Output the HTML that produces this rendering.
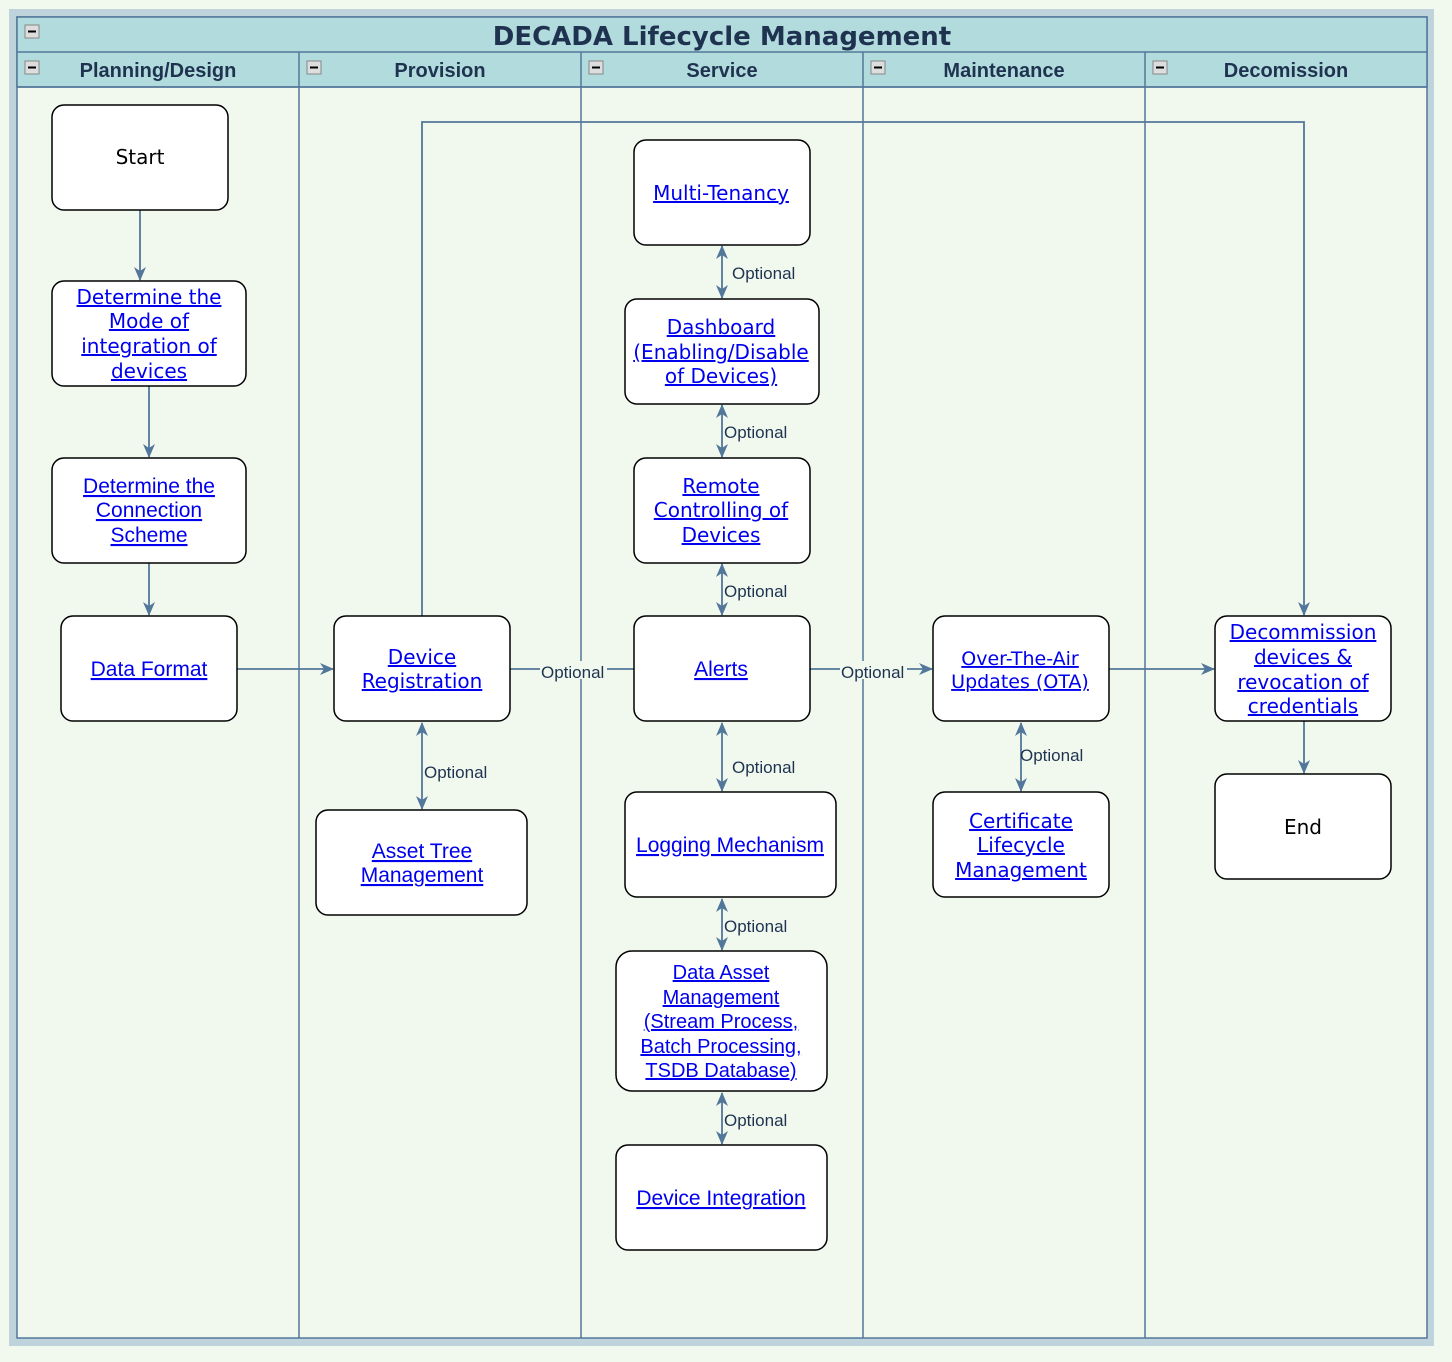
<!DOCTYPE html>
<html><head><meta charset="utf-8"><style>
html,body{margin:0;padding:0;background:#f1f9ef;}
svg{display:block}
.b{fill:#fff;stroke:#000;stroke-width:1.5}
.l{fill:#0000ee;text-decoration:underline;text-anchor:middle}
.dj{font-family:"DejaVu Sans",sans-serif;font-size:20px}
.lb{font-family:"Liberation Sans",sans-serif;font-size:21px}
.e{stroke:#53779a;stroke-width:1.8;fill:none}
.o{font-family:"Liberation Sans",sans-serif;font-size:17px;fill:#1f3350}
.h{font-family:"Liberation Sans",sans-serif;font-weight:bold;fill:#1f3350;text-anchor:middle}
</style></head><body>
<svg width="1452" height="1362" viewBox="0 0 1452 1362" xmlns="http://www.w3.org/2000/svg">
<defs>
<marker id="a" viewBox="0 0 14 14" refX="13" refY="7" markerWidth="14" markerHeight="14" orient="auto-start-reverse" markerUnits="userSpaceOnUse"><path d="M0,1 L14,7 L0,13 L4,7z" fill="#53779a"/></marker>
</defs>
<rect x="0" y="0" width="1452" height="1362" fill="#f1f9ef"/>
<rect x="9" y="9" width="1425" height="1337" fill="#bfd3dc"/>
<rect x="17" y="17" width="1410" height="1321" fill="#f1f9ef" stroke="#53779a" stroke-width="1.5"/>
<rect x="17" y="17" width="1410" height="70" fill="#b1dbdc" stroke="#53779a" stroke-width="1.5"/>
<line x1="17" y1="52" x2="1427" y2="52" stroke="#53779a" stroke-width="1.5"/>
<line x1="17" y1="87" x2="1427" y2="87" stroke="#53779a" stroke-width="1.5"/>
<g stroke="#53779a" stroke-width="1.5">
<line x1="299" y1="52" x2="299" y2="1338"/><line x1="581" y1="52" x2="581" y2="1338"/>
<line x1="863" y1="52" x2="863" y2="1338"/><line x1="1145" y1="52" x2="1145" y2="1338"/>
</g>
<g fill="#ddd" stroke="#888" stroke-width="1">
<rect x="25" y="25" width="14" height="13"/><rect x="25" y="61" width="14" height="13"/><rect x="307" y="61" width="14" height="13"/><rect x="589" y="61" width="14" height="13"/><rect x="871" y="61" width="14" height="13"/><rect x="1153" y="61" width="14" height="13"/>
</g>
<g stroke="#000" stroke-width="2">
<line x1="28" y1="31.5" x2="36" y2="31.5"/><line x1="28" y1="67.5" x2="36" y2="67.5"/><line x1="310" y1="67.5" x2="318" y2="67.5"/><line x1="592" y1="67.5" x2="600" y2="67.5"/><line x1="874" y1="67.5" x2="882" y2="67.5"/><line x1="1156" y1="67.5" x2="1164" y2="67.5"/>
</g>
<text class="h" x="722" y="45" font-size="26" style="font-family:'DejaVu Sans',sans-serif">DECADA Lifecycle Management</text>
<g class="h" font-size="20">
<text x="158" y="77">Planning/Design</text><text x="440" y="77">Provision</text><text x="722" y="77">Service</text><text x="1004" y="77">Maintenance</text><text x="1286" y="77">Decomission</text>
</g>
<g class="e">
<line x1="140" y1="210" x2="140" y2="280" marker-end="url(#a)"/>
<line x1="149" y1="386" x2="149" y2="457" marker-end="url(#a)"/>
<line x1="149" y1="563" x2="149" y2="615" marker-end="url(#a)"/>
<line x1="237" y1="669" x2="333" y2="669" marker-end="url(#a)"/>
<polyline points="422,616 422,122 1304,122 1304,615" marker-end="url(#a)"/>
<line x1="422" y1="723" x2="422" y2="809" marker-start="url(#a)" marker-end="url(#a)"/>
<line x1="510" y1="669" x2="634" y2="669"/>
<line x1="810" y1="669" x2="932" y2="669" marker-end="url(#a)"/>
<line x1="1109" y1="669" x2="1214" y2="669" marker-end="url(#a)"/>
<line x1="1304" y1="721" x2="1304" y2="773" marker-end="url(#a)"/>
<line x1="722" y1="246" x2="722" y2="298" marker-start="url(#a)" marker-end="url(#a)"/>
<line x1="722" y1="405" x2="722" y2="457" marker-start="url(#a)" marker-end="url(#a)"/>
<line x1="722" y1="564" x2="722" y2="615" marker-start="url(#a)" marker-end="url(#a)"/>
<line x1="722" y1="723" x2="722" y2="791" marker-start="url(#a)" marker-end="url(#a)"/>
<line x1="722" y1="899" x2="722" y2="950" marker-start="url(#a)" marker-end="url(#a)"/>
<line x1="722" y1="1093" x2="722" y2="1144" marker-start="url(#a)" marker-end="url(#a)"/>
<line x1="1021" y1="723" x2="1021" y2="791" marker-start="url(#a)" marker-end="url(#a)"/>
</g>
<g class="o">
<rect x="540" y="661" width="67" height="18" fill="#f1f9ef"/><text x="541" y="678">Optional</text>
<rect x="840" y="661" width="67" height="18" fill="#f1f9ef"/><text x="841" y="678">Optional</text>
<text x="732" y="279">Optional</text><text x="724" y="438">Optional</text><text x="724" y="597">Optional</text>
<text x="732" y="773">Optional</text><text x="724" y="932">Optional</text><text x="724" y="1126">Optional</text>
<text x="424" y="778">Optional</text><text x="1020" y="761">Optional</text>
</g>
<g class="b">
<rect x="52" y="105" width="176" height="105" rx="12"/>
<rect x="52" y="281" width="194" height="105" rx="12"/>
<rect x="52" y="458" width="194" height="105" rx="12"/>
<rect x="61" y="616" width="176" height="105" rx="12"/>
<rect x="334" y="616" width="176" height="105" rx="12"/>
<rect x="316" y="810" width="211" height="105" rx="12"/>
<rect x="634" y="140" width="176" height="105" rx="12"/>
<rect x="625" y="299" width="194" height="105" rx="12"/>
<rect x="634" y="458" width="176" height="105" rx="12"/>
<rect x="634" y="616" width="176" height="105" rx="12"/>
<rect x="625" y="792" width="211" height="105" rx="12"/>
<rect x="616" y="951" width="211" height="140" rx="16"/>
<rect x="616" y="1145" width="211" height="105" rx="12"/>
<rect x="933" y="616" width="176" height="105" rx="12"/>
<rect x="933" y="792" width="176" height="105" rx="12"/>
<rect x="1215" y="616" width="176" height="105" rx="12"/>
<rect x="1215" y="774" width="176" height="105" rx="12"/>
</g>
<text x="140" y="164" text-anchor="middle" class="dj" fill="#000">Start</text>
<text x="1303" y="834" text-anchor="middle" class="dj" fill="#000">End</text>
<g class="l dj">
<text x="149" y="304">Determine the</text><text x="149" y="328">Mode of</text><text x="149" y="353">integration of</text><text x="149" y="378">devices</text>
<text x="422" y="664">Device</text><text x="422" y="688">Registration</text>
<text x="721" y="200">Multi-Tenancy</text>
<text x="721" y="334">Dashboard</text><text x="721" y="359">(Enabling/Disable</text><text x="721" y="383">of Devices)</text>
<text x="721" y="493">Remote</text><text x="721" y="517">Controlling of</text><text x="721" y="542">Devices</text>
<text x="1020" y="665" font-size="19">Over-The-Air</text><text x="1020" y="688" font-size="19">Updates (OTA)</text>
<text x="1021" y="828">Certificate</text><text x="1021" y="852">Lifecycle</text><text x="1021" y="877">Management</text>
<text x="1303" y="639">Decommission</text><text x="1303" y="664">devices &amp;</text><text x="1303" y="689">revocation of</text><text x="1303" y="713">credentials</text>
</g>
<g class="l lb">
<text x="149" y="493">Determine the</text><text x="149" y="517">Connection</text><text x="149" y="542">Scheme</text>
<text x="149" y="676">Data Format</text>
<text x="422" y="858">Asset Tree</text><text x="422" y="882">Management</text>
<text x="721" y="676">Alerts</text>
<text x="730" y="852">Logging Mechanism</text>
<g font-size="20"><text x="721" y="979">Data Asset</text><text x="721" y="1004">Management</text><text x="721" y="1028">(Stream Process,</text><text x="721" y="1053">Batch Processing,</text><text x="721" y="1077">TSDB Database)</text></g>
<text x="721" y="1205">Device Integration</text>
</g>
</svg>
</body></html>
